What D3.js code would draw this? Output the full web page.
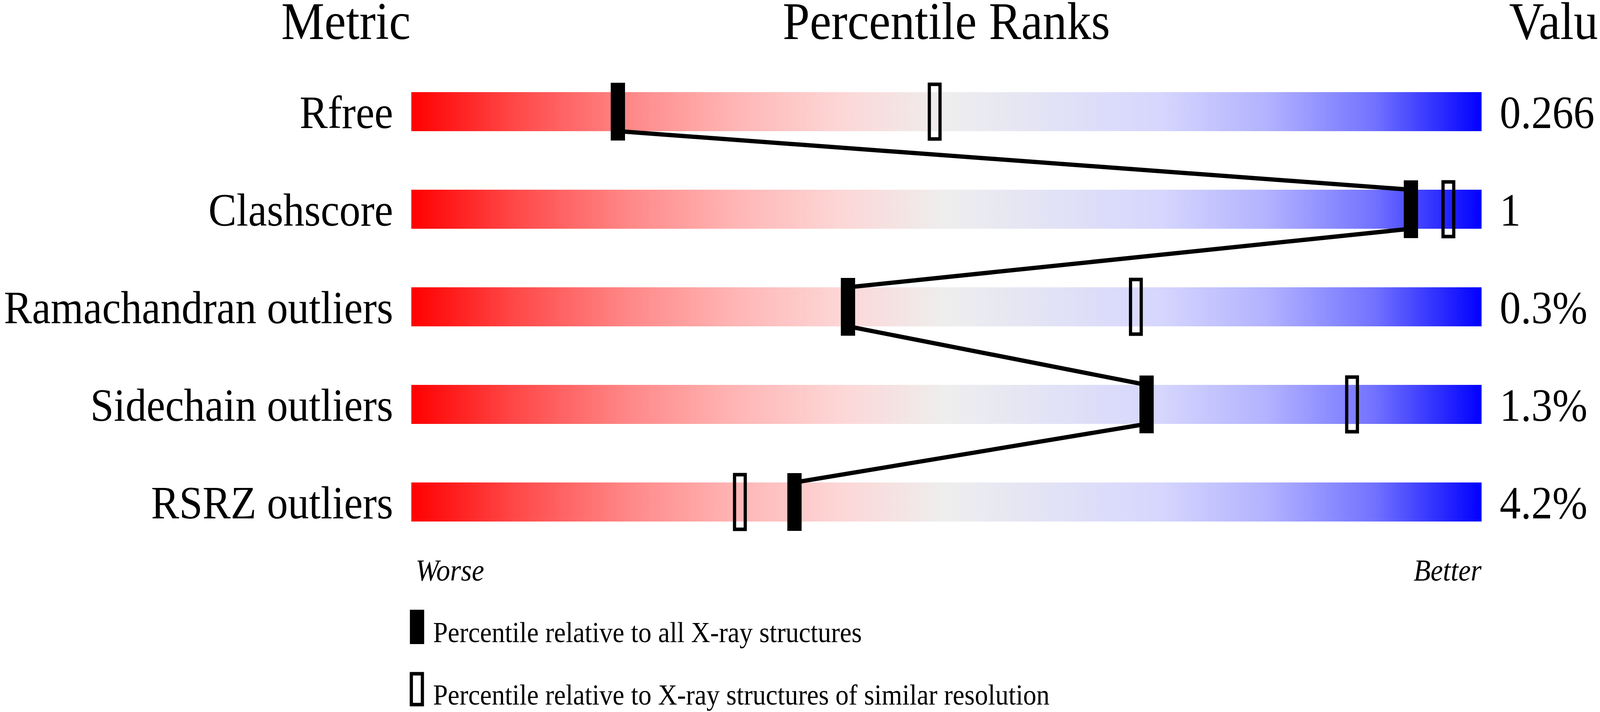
<!DOCTYPE html>
<html><head><meta charset="utf-8">
<script src="https://cdn.jsdelivr.net/npm/d3@7"></script>
<style>html,body{margin:0;padding:0;background:#fff;overflow:hidden}svg{display:block;width:100vw;height:100vh}</style></head>
<body><svg id="c" viewBox="0 0 4485 1824" preserveAspectRatio="none"></svg>
<script>
const metrics = ["Rfree","Clashscore","Ramachandran outliers","Sidechain outliers","RSRZ outliers"];
const allPct = [19.3, 93.4, 40.8, 68.7, 35.8];
const simPct = [48.9, 96.9, 67.7, 87.9, 30.7];
const values = ["0.266","1","0.3%","1.3%","4.2%"];
const legendLabels = ["Percentile relative to all X-ray structures","Percentile relative to X-ray structures of similar resolution"];

const svg = d3.select("#c");
const font = "'Liberation Serif','Times New Roman',serif";
const x = d3.scaleLinear().domain([0,100]).range([1153,4153]);
const yTop = d3.scaleLinear().domain([0,4]).range([236,1236]);
const barH = 100;

const defs = svg.append("defs");
const g = defs.append("linearGradient").attr("id","grad");
[[0,"#ff0000"],[0.1,"#ff4a4a"],[0.2,"#ff8686"],[0.3,"#ffb4b4"],[0.4,"#fdd6d6"],[0.5,"#eeeeee"],
 [0.6,"#e2e2f6"],[0.7,"#d6d6fe"],[0.8,"#b2b2ff"],[0.9,"#7272ff"],[1,"#0000ff"]]
 .forEach(([o,c])=>g.append("stop").attr("offset",o).attr("stop-color",c));

svg.append("text").attr("x",1151).attr("y",100).attr("text-anchor","end").attr("font-family",font).attr("font-size",136).text("Metric");
svg.append("text").attr("x",x(50)).attr("y",100).attr("text-anchor","middle").attr("font-family",font).attr("font-size",136).text("Percentile Ranks");
svg.append("text").attr("x",4385).attr("y",100).attr("text-anchor","middle").attr("font-family",font).attr("font-size",136).text("Value");

metrics.forEach((m,i)=>{
  const t = yTop(i);
  svg.append("rect").attr("x",x(0)).attr("y",t).attr("width",x(100)-x(0)).attr("height",barH).attr("fill","url(#grad)");
  svg.append("text").attr("x",1102).attr("y",t+barH/2+42).attr("text-anchor","end").attr("font-family",font).attr("font-size",118).text(m);
  svg.append("text").attr("x",4204).attr("y",t+barH/2+42).attr("font-family",font).attr("font-size",118).text(values[i]);
});
for(let i=0;i<metrics.length-1;i++){
  svg.append("line").attr("x1",x(allPct[i])).attr("y1",yTop(i)+barH).attr("x2",x(allPct[i+1])).attr("y2",yTop(i+1))
    .attr("stroke","#000").attr("stroke-width",11);
}
metrics.forEach((m,i)=>{
  const t = yTop(i);
  svg.append("rect").attr("x",x(simPct[i])-15).attr("y",t-20).attr("width",30).attr("height",barH+40)
    .attr("fill","none").attr("stroke","#000").attr("stroke-width",9);
  svg.append("rect").attr("x",x(allPct[i])-20).attr("y",t-24).attr("width",40).attr("height",barH+48).attr("fill","#000");
});
svg.append("text").attr("x",1165).attr("y",1487).attr("font-family",font).attr("font-style","italic").attr("font-size",78).text("Worse");
svg.append("text").attr("x",4153).attr("y",1487).attr("text-anchor","end").attr("font-family",font).attr("font-style","italic").attr("font-size",78).text("Better");
svg.append("rect").attr("x",1149).attr("y",1562).attr("width",40).attr("height",88).attr("fill","#000");
svg.append("rect").attr("x",1153).attr("y",1726).attr("width",31).attr("height",79).attr("fill","none").attr("stroke","#000").attr("stroke-width",9);
legendLabels.forEach((l,i)=>svg.append("text").attr("x",1214).attr("y",[1645,1805][i]).attr("font-family",font).attr("font-size",74).text(l));
</script></body></html>
